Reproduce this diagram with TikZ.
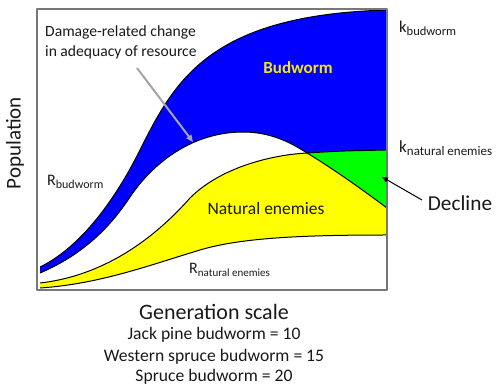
\documentclass[tikz,border=0pt]{standalone}
\usepackage{fontspec}
\usepackage{graphicx}
\setmainfont{Carlito}
\usetikzlibrary{arrows.meta}
\definecolor{bwblue}{RGB}{0,0,255}
\definecolor{negreen}{RGB}{0,255,0}
\definecolor{neyellow}{RGB}{255,255,0}
\definecolor{boxgray}{RGB}{120,120,120}
\definecolor{arrgray}{RGB}{165,165,165}
\definecolor{lbl}{RGB}{245,230,20}
\definecolor{ink}{RGB}{25,25,25}
\newcommand{\lowsub}[2]{\raisebox{-0.35ex}{\fontsize{#1}{#1}\selectfont #2}}
\tikzset{
  curve/.style={black, line width=1pt},
  txt/.style={inner sep=0pt, text=ink},
}
\begin{document}
\begin{tikzpicture}[x=1pt,y=-1pt, line join=round]
\useasboundingbox (0,0) rectangle (496,387);
% blue band
\fill[bwblue] (40,267) .. controls (75,250) and (110,210) .. (140,150) .. controls (175,80) and (210,15) .. (387,10) -- (387,150) .. controls (340,151) .. (307,153) .. controls (290,142) and (270,132) .. (243,132) .. controls (195,132) and (155,160) .. (130,197) .. controls (105,235) and (75,258) .. (40,273) -- cycle;
% green
\fill[negreen] (307,153) .. controls (340,151) .. (387,150) -- (387,208) .. controls (360,188) and (335,170) .. (307,153) -- cycle;
% yellow
\fill[neyellow] (40,283) .. controls (110,275) and (160,232) .. (190,198) .. controls (220,168) and (270,155) .. (307,153) .. controls (335,170) and (360,188) .. (387,208) -- (387,235) .. controls (300,235) and (240,238) .. (200,250) .. controls (150,265) and (100,284) .. (40,288) -- cycle;
% outlines
\draw[curve] (40,267) .. controls (75,250) and (110,210) .. (140,150) .. controls (175,80) and (210,15) .. (387,10);
\draw[curve] (40,273) .. controls (75,258) and (105,235) .. (130,197) .. controls (155,160) and (195,132) .. (243,132) .. controls (270,132) and (290,142) .. (307,153) .. controls (335,170) and (360,188) .. (387,208);
\draw[curve] (40,283) .. controls (110,275) and (160,232) .. (190,198) .. controls (220,168) and (270,155) .. (307,153);
\draw[curve] (307,153) .. controls (340,151) .. (387,150);
\draw[curve] (40,288) .. controls (100,284) and (150,265) .. (200,250) .. controls (240,238) and (300,235) .. (387,235);
% frame
\draw[boxgray, line width=1.5pt] (37,9) rectangle (387,290);
% texts
\node[txt, rotate=90, font=\fontsize{21}{24}\selectfont] (poplbl) at (15,143) {Population};
\node[txt, anchor=west, align=left, font=\fontsize{15.6}{20}\selectfont] (dmglbl) at (45,42) {Damage-related change\\in adequacy of resource};
\node[txt, anchor=west, font=\fontsize{16}{18}\selectfont] (rbw) at (47,182) {R\lowsub{12}{budworm}};
\node[txt, font=\bfseries\fontsize{17}{18}\selectfont, text=lbl] (bwlbl) at (298,68) {Budworm};
\node[txt, font=\fontsize{17.5}{20}\selectfont] (nelbl) at (266,208) {Natural enemies};
\node[txt, anchor=west, font=\fontsize{16}{18}\selectfont] (rnat) at (189,270) {R\lowsub{11}{natural enemies}};
\node[txt, anchor=west, font=\fontsize{16.5}{18}\selectfont] (kbw) at (399,28) {k\lowsub{12.5}{budworm}};
\node[txt, anchor=west, font=\fontsize{17}{18}\selectfont] (knat) at (399,148) {k\lowsub{13}{natural enemies}};
\node[txt, font=\fontsize{21.3}{24}\selectfont] (declbl) at (460,203) {Decline};
\node[txt, font=\fontsize{22}{24}\selectfont] (genlbl) at (214,312) {Generation scale};
\node[txt, font=\fontsize{17.6}{20}\selectfont] (jack) at (214,335) {Jack pine budworm = 10};
\node[txt, font=\fontsize{17.6}{20}\selectfont] (wsb) at (214,357) {Western spruce budworm = 15};
\node[txt, font=\fontsize{17.6}{20}\selectfont] (sb) at (214,377) {Spruce budworm = 20};
% arrows
\coordinate (dmgtail) at (137,68);
\coordinate (dmghead) at (193,142);
\draw[arrgray, line width=2pt, -{Triangle[length=7pt,width=6pt]}] (dmgtail) -- (dmghead);
\coordinate (dectail) at (422,200);
\coordinate (dechead) at (382,177);
\draw[black, line width=1pt, -{Triangle[length=6pt,width=5pt]}] (dectail) -- (dechead);
\end{tikzpicture}
\end{document}
